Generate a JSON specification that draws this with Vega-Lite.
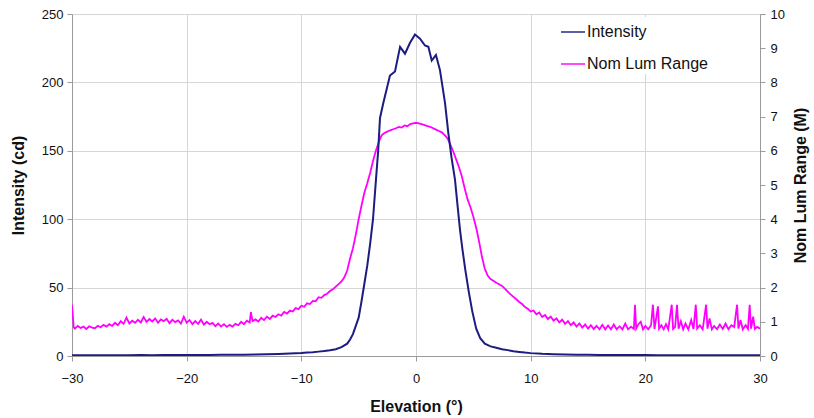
{
  "$schema": "https://vega.github.io/schema/vega-lite/v6.json",
  "width": 688,
  "height": 342,
  "autosize": {"type": "none"},
  "padding": {"left": 72, "top": 14, "right": 54, "bottom": 62},
  "background": "white",
  "config": {
    "font": "Liberation Sans",
    "view": {"stroke": null},
    "axis": {
      "labelFont": "Liberation Sans",
      "labelFontSize": 13,
      "labelColor": "#111111",
      "titleFont": "Liberation Sans",
      "titleFontSize": 16,
      "titleFontWeight": "bold",
      "titleColor": "#111111",
      "gridColor": "#d6d6d6",
      "gridWidth": 1,
      "domainColor": "#9a9a9a",
      "tickColor": "#9a9a9a",
      "tickSize": 5,
      "labelFlush": false
    }
  },
  "datasets": {
    "intensity": [
      {"e": -30, "v": 0.6}, {"e": -29, "v": 0.5}, {"e": -28, "v": 0.6}, {"e": -27, "v": 0.5}, {"e": -26, "v": 0.6},
      {"e": -25, "v": 0.6}, {"e": -24, "v": 0.7}, {"e": -23, "v": 0.6}, {"e": -22, "v": 0.7}, {"e": -21, "v": 0.7},
      {"e": -20, "v": 0.8}, {"e": -19, "v": 0.8}, {"e": -18, "v": 0.8}, {"e": -17, "v": 0.9}, {"e": -16, "v": 0.9},
      {"e": -15, "v": 1.0}, {"e": -14, "v": 1.1}, {"e": -13, "v": 1.3}, {"e": -12, "v": 1.5}, {"e": -11, "v": 1.8},
      {"e": -10, "v": 2.2}, {"e": -9.5, "v": 2.5}, {"e": -9, "v": 2.8}, {"e": -8.5, "v": 3.2}, {"e": -8, "v": 3.6},
      {"e": -7.5, "v": 4.2}, {"e": -7, "v": 5.0}, {"e": -6.5, "v": 6.5}, {"e": -6, "v": 9}, {"e": -5.75, "v": 12},
      {"e": -5.5, "v": 16}, {"e": -5.25, "v": 22}, {"e": -5, "v": 28}, {"e": -4.75, "v": 40}, {"e": -4.5, "v": 53},
      {"e": -4.25, "v": 66}, {"e": -4, "v": 82}, {"e": -3.75, "v": 100}, {"e": -3.5, "v": 128}, {"e": -3.3, "v": 150},
      {"e": -3.14, "v": 174}, {"e": -2.85, "v": 185}, {"e": -2.27, "v": 205}, {"e": -1.83, "v": 208}, {"e": -1.39, "v": 226},
      {"e": -0.96, "v": 221}, {"e": -0.52, "v": 229}, {"e": -0.09, "v": 235}, {"e": 0.35, "v": 232}, {"e": 0.78, "v": 227},
      {"e": 1.08, "v": 226}, {"e": 1.37, "v": 216}, {"e": 1.74, "v": 220}, {"e": 2.09, "v": 209}, {"e": 2.53, "v": 185},
      {"e": 2.82, "v": 163}, {"e": 3.1, "v": 145}, {"e": 3.4, "v": 129}, {"e": 3.6, "v": 112}, {"e": 3.84, "v": 92},
      {"e": 4.05, "v": 78}, {"e": 4.3, "v": 63}, {"e": 4.6, "v": 47}, {"e": 4.9, "v": 33}, {"e": 5.25, "v": 20},
      {"e": 5.6, "v": 13}, {"e": 6, "v": 9}, {"e": 6.5, "v": 7}, {"e": 7, "v": 6}, {"e": 7.5, "v": 5},
      {"e": 8, "v": 4.3}, {"e": 8.5, "v": 3.5}, {"e": 9, "v": 3}, {"e": 9.5, "v": 2.5}, {"e": 10, "v": 2.1},
      {"e": 11, "v": 1.6}, {"e": 12, "v": 1.3}, {"e": 13, "v": 1.1}, {"e": 14, "v": 1.0}, {"e": 15, "v": 0.9},
      {"e": 16, "v": 0.8}, {"e": 17, "v": 0.8}, {"e": 18, "v": 0.7}, {"e": 19, "v": 0.7}, {"e": 20, "v": 0.7},
      {"e": 21, "v": 0.6}, {"e": 22, "v": 0.6}, {"e": 23, "v": 0.6}, {"e": 24, "v": 0.6}, {"e": 25, "v": 0.5},
      {"e": 26, "v": 0.5}, {"e": 27, "v": 0.5}, {"e": 28, "v": 0.5}, {"e": 29, "v": 0.5}, {"e": 30, "v": 0.5}
    ],
    "lum": [
      {"e": -30, "v": 1.5}, {"e": -29.85, "v": 0.84}, {"e": -29.75, "v": 0.8}, {"e": -29.5, "v": 0.88}, {"e": -29.25, "v": 0.82},
      {"e": -29, "v": 0.86}, {"e": -28.75, "v": 0.79}, {"e": -28.5, "v": 0.87}, {"e": -28.25, "v": 0.83}, {"e": -28, "v": 0.81},
      {"e": -27.75, "v": 0.88}, {"e": -27.5, "v": 0.84}, {"e": -27.25, "v": 0.91}, {"e": -27, "v": 0.86}, {"e": -26.75, "v": 0.93},
      {"e": -26.5, "v": 0.88}, {"e": -26.25, "v": 0.97}, {"e": -26, "v": 0.9}, {"e": -25.75, "v": 1.02}, {"e": -25.5, "v": 0.94},
      {"e": -25.25, "v": 1.12}, {"e": -25, "v": 0.95}, {"e": -24.75, "v": 1.03}, {"e": -24.5, "v": 0.97}, {"e": -24.25, "v": 1.06},
      {"e": -24, "v": 0.98}, {"e": -23.75, "v": 1.14}, {"e": -23.5, "v": 1.0}, {"e": -23.25, "v": 1.08}, {"e": -23, "v": 1.01},
      {"e": -22.75, "v": 1.1}, {"e": -22.5, "v": 0.97}, {"e": -22.25, "v": 1.07}, {"e": -22, "v": 1.02}, {"e": -21.75, "v": 1.09},
      {"e": -21.5, "v": 0.96}, {"e": -21.25, "v": 1.06}, {"e": -21, "v": 0.99}, {"e": -20.75, "v": 1.04}, {"e": -20.5, "v": 0.95},
      {"e": -20.25, "v": 1.15}, {"e": -20, "v": 0.97}, {"e": -19.75, "v": 1.05}, {"e": -19.5, "v": 0.93}, {"e": -19.25, "v": 1.02},
      {"e": -19, "v": 0.94}, {"e": -18.75, "v": 1.06}, {"e": -18.5, "v": 0.92}, {"e": -18.25, "v": 1.0}, {"e": -18, "v": 0.93},
      {"e": -17.75, "v": 0.97}, {"e": -17.5, "v": 0.87}, {"e": -17.25, "v": 0.95}, {"e": -17, "v": 0.86}, {"e": -16.75, "v": 0.93},
      {"e": -16.5, "v": 0.85}, {"e": -16.25, "v": 0.91}, {"e": -16, "v": 0.86}, {"e": -15.75, "v": 0.94}, {"e": -15.5, "v": 0.9},
      {"e": -15.25, "v": 1.0}, {"e": -15, "v": 0.93}, {"e": -14.75, "v": 1.03}, {"e": -14.5, "v": 0.98}, {"e": -14.4, "v": 1.28},
      {"e": -14.25, "v": 1.02}, {"e": -14, "v": 1.07}, {"e": -13.75, "v": 1.01}, {"e": -13.5, "v": 1.12}, {"e": -13.25, "v": 1.05},
      {"e": -13, "v": 1.15}, {"e": -12.75, "v": 1.08}, {"e": -12.5, "v": 1.18}, {"e": -12.25, "v": 1.14}, {"e": -12, "v": 1.22},
      {"e": -11.75, "v": 1.18}, {"e": -11.5, "v": 1.29}, {"e": -11.25, "v": 1.24}, {"e": -11, "v": 1.33}, {"e": -10.75, "v": 1.3},
      {"e": -10.5, "v": 1.4}, {"e": -10.25, "v": 1.37}, {"e": -10, "v": 1.47}, {"e": -9.75, "v": 1.44}, {"e": -9.5, "v": 1.54},
      {"e": -9.25, "v": 1.52}, {"e": -9, "v": 1.61}, {"e": -8.75, "v": 1.6}, {"e": -8.5, "v": 1.72}, {"e": -8.25, "v": 1.7},
      {"e": -8, "v": 1.78}, {"e": -7.75, "v": 1.82}, {"e": -7.5, "v": 1.9}, {"e": -7.25, "v": 1.95}, {"e": -7, "v": 2.03},
      {"e": -6.75, "v": 2.1}, {"e": -6.5, "v": 2.18}, {"e": -6.25, "v": 2.3}, {"e": -6, "v": 2.5}, {"e": -5.75, "v": 2.85},
      {"e": -5.5, "v": 3.15}, {"e": -5.25, "v": 3.55}, {"e": -5, "v": 4.0}, {"e": -4.75, "v": 4.4}, {"e": -4.5, "v": 4.78},
      {"e": -4.25, "v": 5.05}, {"e": -4, "v": 5.35}, {"e": -3.75, "v": 5.7}, {"e": -3.5, "v": 6.0}, {"e": -3.25, "v": 6.25},
      {"e": -3, "v": 6.45}, {"e": -2.75, "v": 6.52}, {"e": -2.5, "v": 6.56}, {"e": -2.25, "v": 6.6}, {"e": -2, "v": 6.63},
      {"e": -1.75, "v": 6.66}, {"e": -1.5, "v": 6.7}, {"e": -1.25, "v": 6.68}, {"e": -1, "v": 6.74}, {"e": -0.75, "v": 6.72},
      {"e": -0.5, "v": 6.78}, {"e": -0.25, "v": 6.8}, {"e": 0, "v": 6.82}, {"e": 0.25, "v": 6.8}, {"e": 0.5, "v": 6.78},
      {"e": 0.75, "v": 6.75}, {"e": 1, "v": 6.72}, {"e": 1.25, "v": 6.7}, {"e": 1.5, "v": 6.66}, {"e": 1.75, "v": 6.62},
      {"e": 2, "v": 6.58}, {"e": 2.25, "v": 6.54}, {"e": 2.5, "v": 6.46}, {"e": 2.75, "v": 6.36}, {"e": 3, "v": 6.18},
      {"e": 3.25, "v": 5.98}, {"e": 3.5, "v": 5.75}, {"e": 3.75, "v": 5.52}, {"e": 4, "v": 5.25}, {"e": 4.25, "v": 4.9},
      {"e": 4.5, "v": 4.58}, {"e": 4.75, "v": 4.35}, {"e": 5, "v": 4.07}, {"e": 5.25, "v": 3.75}, {"e": 5.5, "v": 3.35},
      {"e": 5.75, "v": 2.9}, {"e": 6, "v": 2.55}, {"e": 6.25, "v": 2.35}, {"e": 6.5, "v": 2.25}, {"e": 6.75, "v": 2.2},
      {"e": 7, "v": 2.14}, {"e": 7.25, "v": 2.1}, {"e": 7.5, "v": 2.05}, {"e": 7.75, "v": 1.97}, {"e": 8, "v": 1.88},
      {"e": 8.25, "v": 1.8}, {"e": 8.5, "v": 1.73}, {"e": 8.75, "v": 1.66}, {"e": 9, "v": 1.58}, {"e": 9.25, "v": 1.52},
      {"e": 9.5, "v": 1.43}, {"e": 9.75, "v": 1.38}, {"e": 10, "v": 1.3}, {"e": 10.25, "v": 1.33}, {"e": 10.5, "v": 1.22},
      {"e": 10.75, "v": 1.27}, {"e": 11, "v": 1.14}, {"e": 11.25, "v": 1.2}, {"e": 11.5, "v": 1.08}, {"e": 11.75, "v": 1.15},
      {"e": 12, "v": 1.03}, {"e": 12.25, "v": 1.1}, {"e": 12.5, "v": 0.98}, {"e": 12.75, "v": 1.06}, {"e": 13, "v": 0.94},
      {"e": 13.25, "v": 1.02}, {"e": 13.5, "v": 0.9}, {"e": 13.75, "v": 0.98}, {"e": 14, "v": 0.86}, {"e": 14.25, "v": 0.95},
      {"e": 14.5, "v": 0.83}, {"e": 14.75, "v": 0.92}, {"e": 15, "v": 0.8}, {"e": 15.25, "v": 0.9}, {"e": 15.5, "v": 0.79},
      {"e": 15.75, "v": 0.88}, {"e": 16, "v": 0.78}, {"e": 16.25, "v": 0.91}, {"e": 16.5, "v": 0.78}, {"e": 16.75, "v": 0.89},
      {"e": 17, "v": 0.78}, {"e": 17.25, "v": 0.92}, {"e": 17.5, "v": 0.78}, {"e": 17.75, "v": 0.87}, {"e": 18, "v": 0.78},
      {"e": 18.25, "v": 0.95}, {"e": 18.5, "v": 0.78}, {"e": 18.75, "v": 0.86}, {"e": 19.0, "v": 0.79}, {"e": 19.1, "v": 1.5},
      {"e": 19.2, "v": 0.8}, {"e": 19.4, "v": 0.93}, {"e": 19.6, "v": 1.0}, {"e": 19.8, "v": 0.78}, {"e": 20.0, "v": 0.88},
      {"e": 20.25, "v": 0.78}, {"e": 20.5, "v": 0.9}, {"e": 20.66, "v": 1.5}, {"e": 20.8, "v": 0.79}, {"e": 21.1, "v": 1.45},
      {"e": 21.2, "v": 0.8}, {"e": 21.4, "v": 0.9}, {"e": 21.6, "v": 0.78}, {"e": 21.8, "v": 0.93}, {"e": 22.0, "v": 0.78},
      {"e": 22.3, "v": 1.5}, {"e": 22.42, "v": 0.79}, {"e": 22.6, "v": 0.85}, {"e": 22.76, "v": 1.5}, {"e": 22.9, "v": 0.8},
      {"e": 23.1, "v": 1.02}, {"e": 23.3, "v": 0.78}, {"e": 23.5, "v": 0.95}, {"e": 23.75, "v": 0.78}, {"e": 24.0, "v": 1.05},
      {"e": 24.2, "v": 0.79}, {"e": 24.4, "v": 1.5}, {"e": 24.52, "v": 0.8}, {"e": 24.75, "v": 0.9}, {"e": 25.0, "v": 0.78},
      {"e": 25.3, "v": 1.5}, {"e": 25.42, "v": 0.8}, {"e": 25.6, "v": 1.1}, {"e": 25.8, "v": 0.78}, {"e": 26.0, "v": 0.88},
      {"e": 26.25, "v": 0.78}, {"e": 26.5, "v": 0.92}, {"e": 26.75, "v": 0.79}, {"e": 27.0, "v": 0.95}, {"e": 27.25, "v": 0.78},
      {"e": 27.5, "v": 0.9}, {"e": 27.75, "v": 0.85}, {"e": 28.0, "v": 1.5}, {"e": 28.12, "v": 0.8}, {"e": 28.3, "v": 1.05},
      {"e": 28.5, "v": 0.78}, {"e": 28.75, "v": 0.9}, {"e": 28.95, "v": 0.79}, {"e": 29.1, "v": 1.5}, {"e": 29.22, "v": 0.8},
      {"e": 29.4, "v": 1.15}, {"e": 29.55, "v": 0.79}, {"e": 29.75, "v": 0.85}, {"e": 30, "v": 0.8}
    ]
  },
  "layer": [
    {
      "data": {"name": "lum"},
      "mark": {"type": "line", "strokeWidth": 1.8, "clip": true},
      "encoding": {
        "x": {"field": "e", "type": "quantitative", "scale": {"domain": [-30, 30], "nice": false},
          "axis": {"values": [-30, -20, -10, 0, 10, 20, 30], "title": "Elevation (°)", "grid": true,
            "labelPadding": 11, "titleBaseline": "alphabetic", "titleY": 55}},
        "y": {"field": "v", "type": "quantitative", "scale": {"domain": [0, 10], "nice": false},
          "axis": {"orient": "right", "values": [0, 1, 2, 3, 4, 5, 6, 7, 8, 9, 10], "grid": false, "title": "Nom Lum Range (M)",
            "labelPadding": 5, "titleAngle": -90, "titleX": 40, "titleBaseline": "middle"}},
        "color": {"datum": "Nom Lum Range", "type": "nominal",
          "scale": {"domain": ["Intensity", "Nom Lum Range"], "range": ["#1c1c82", "#ff00ff"]}}
      }
    },
    {
      "data": {"name": "intensity"},
      "mark": {"type": "line", "strokeWidth": 2, "clip": true},
      "encoding": {
        "x": {"field": "e", "type": "quantitative", "scale": {"domain": [-30, 30], "nice": false}},
        "y": {"field": "v", "type": "quantitative", "scale": {"domain": [0, 250], "nice": false},
          "axis": {"orient": "left", "values": [0, 50, 100, 150, 200, 250], "grid": true, "title": "Intensity (cd)",
            "labelPadding": 4, "titleX": -54, "titleBaseline": "middle"}},
        "color": {"datum": "Intensity", "type": "nominal",
          "scale": {"domain": ["Intensity", "Nom Lum Range"], "range": ["#1c1c82", "#ff00ff"]},
          "legend": {"title": null, "orient": "none", "legendX": 486, "legendY": 3,
            "symbolType": "stroke", "symbolSize": 576, "symbolStrokeWidth": 2, "symbolOpacity": 0.7,
            "labelFont": "Liberation Sans", "labelFontSize": 16, "labelColor": "#111111", "labelOffset": 1,
            "rowPadding": 11, "fillColor": "white", "padding": 2, "labelLimit": 300}}
      }
    }
  ],
  "resolve": {"scale": {"y": "independent"}, "axis": {"y": "independent"}}
}
